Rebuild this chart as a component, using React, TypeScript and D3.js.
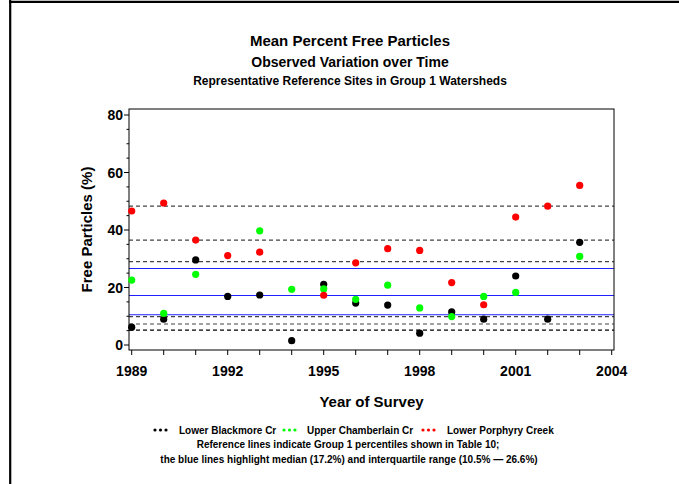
import React from "react";
import * as d3 from "d3";

// Survey years and site means (% free particles); null = no survey that year
const years = [1989, 1990, 1991, 1992, 1993, 1994, 1995, 1996, 1997, 1998, 1999, 2000, 2001, 2002, 2003];
const blackmore = [6.2, 9.0, 29.6, 16.9, 17.4, 1.5, 21.1, 14.6, 13.9, 4.1, 11.5, 9.0, 24.0, 9.0, 35.7];
const chamberlain = [22.6, 11.0, 24.6, null, 39.7, 19.4, 19.5, 15.9, 20.8, 12.9, 9.9, 16.9, 18.3, null, 30.8];
const porphyry = [46.6, 49.4, 36.5, 31.1, 32.3, null, 17.3, 28.6, 33.5, 32.9, 21.7, 14.0, 44.5, 48.3, 55.5];

const seriesNames = ["Lower Blackmore Cr", "Upper Chamberlain Cr", "Lower Porphyry Creek"];
const seriesColors = ["#000000", "#00ff00", "#ff0000"];

// Group 1 percentile reference lines
const percentileLines = [5.2, 7.3, 9.9, 29.0, 36.5, 48.3];
const medianIqrLines = [10.5, 17.2, 26.6];

const xTickLabels = [1989, 1992, 1995, 1998, 2001, 2004];
const yTickLabels = [0, 20, 40, 60, 80];

const titles = [
  "Mean Percent Free Particles",
  "Observed Variation over Time",
  "Representative Reference Sites in Group 1 Watersheds",
];
const notes = [
  "Reference lines indicate Group 1 percentiles shown in Table 10;",
  "the blue lines highlight median (17.2%) and interquartile range (10.5% \u2014 26.6%)",
];

const W = 679;
const H = 484;
const frame = { left: 129, right: 614, top: 109, bottom: 350 };
const FONT = "'Liberation Sans', Arial, Helvetica, sans-serif";

export default function App() {
  const x = d3.scaleLinear().domain([1989, 2004]).range([131.7, 611.7]);
  const y = d3.scaleLinear().domain([0, 80]).range([345, 115]);

  const allSeries = [blackmore, chamberlain, porphyry];
  const yearTicks = d3.range(1989, 2005);
  const minorY = d3.range(0, 81, 5);

  return (
    <svg
      width={W}
      height={H}
      style={{ position: "absolute", left: 0, top: 0, background: "#fff" }}
      fontFamily={FONT}
      fontWeight="bold"
    >
      <rect x={0} y={0} width={W} height={H} fill="#fff" />
      {/* page edge */}
      <line x1={9} x2={W} y1={1.8} y2={1.8} stroke="#000" strokeWidth={2.2} />
      <line x1={10.2} x2={10.2} y1={0} y2={H} stroke="#000" strokeWidth={2.2} />

      {/* titles */}
      <text x={350} y={46} textAnchor="middle" fontSize={15}>{titles[0]}</text>
      <text x={350} y={67} textAnchor="middle" fontSize={14}>{titles[1]}</text>
      <text x={350} y={85} textAnchor="middle" fontSize={12}>{titles[2]}</text>

      {/* reference lines */}
      {percentileLines.map((v, i) => (
        <line
          key={"p" + i}
          x1={frame.left}
          x2={frame.right}
          y1={y(v)}
          y2={y(v)}
          stroke={i === 0 ? "#000" : "#444"}
          strokeWidth={1.2}
          strokeDasharray="4,3"
        />
      ))}
      {medianIqrLines.map((v, i) => (
        <line
          key={"b" + i}
          x1={frame.left}
          x2={frame.right}
          y1={y(v)}
          y2={y(v)}
          stroke="#2020ff"
          strokeWidth={1.1}
        />
      ))}

      {/* frame */}
      <rect
        x={frame.left}
        y={frame.top}
        width={frame.right - frame.left}
        height={frame.bottom - frame.top}
        fill="none"
        stroke="#000"
        strokeWidth={1}
      />

      {/* y axis ticks */}
      {minorY.map((v) => (
        <line
          key={"ym" + v}
          x1={frame.left - (v % 20 === 0 ? 5 : 2.5)}
          x2={frame.left}
          y1={y(v)}
          y2={y(v)}
          stroke="#000"
          strokeWidth={1}
        />
      ))}
      {yTickLabels.map((v) => (
        <text key={"yl" + v} x={123} y={y(v)} dy="0.36em" textAnchor="end" fontSize={14}>
          {v}
        </text>
      ))}
      <text
        transform={`translate(92,${(frame.top + frame.bottom) / 2}) rotate(-90)`}
        textAnchor="middle"
        fontSize={15}
      >
        Free Particles (%)
      </text>

      {/* x axis ticks */}
      {yearTicks.map((t) => (
        <line key={"xt" + t} x1={x(t)} x2={x(t)} y1={frame.bottom} y2={frame.bottom + 5} stroke="#000" strokeWidth={1} />
      ))}
      {xTickLabels.map((t) => (
        <text key={"xl" + t} x={x(t)} y={376} textAnchor="middle" fontSize={14}>
          {t}
        </text>
      ))}
      <text x={(frame.left + frame.right) / 2} y={407} textAnchor="middle" fontSize={15}>
        Year of Survey
      </text>

      {/* points */}
      {allSeries.map((vals, si) =>
        vals.map((v, i) =>
          v == null ? null : (
            <circle key={`pt${si}-${i}`} cx={x(years[i])} cy={y(v)} r={3.6} fill={seriesColors[si]} />
          )
        )
      )}

      {/* legend */}
      {(() => {
        const starts = [155, 284, 423];
        const textStarts = [179, 307, 447];
        return seriesNames.map((name, si) => (
          <g key={"lg" + si}>
            {[0, 1, 2].map((k) => (
              <circle key={k} cx={starts[si] + k * 5.5} cy={430} r={1.6} fill={seriesColors[si]} />
            ))}
            <text x={textStarts[si]} y={433.5} fontSize={10}>
              {name}
            </text>
          </g>
        ));
      })()}
      <text x={348} y={448} textAnchor="middle" fontSize={10}>{notes[0]}</text>
      <text x={349} y={463} textAnchor="middle" fontSize={10}>{notes[1]}</text>
    </svg>
  );
}
